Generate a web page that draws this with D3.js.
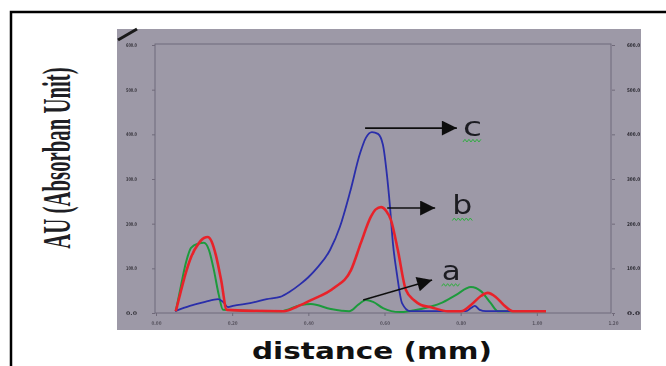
<!DOCTYPE html>
<html>
<head>
<meta charset="utf-8">
<script src="https://cdn.jsdelivr.net/npm/d3@7"></script>
<style>
  body { margin: 0; background: #fff; }
  svg { display: block; }
</style>
</head>
<body>
<div id="chart"></div>
<script>
// densitogram values (Rf, AU)
const aRf = [0.052, 0.066, 0.079, 0.092, 0.110, 0.126, 0.139, 0.152, 0.165, 0.176, 0.328, 0.381, 0.407, 0.459, 0.507, 0.533, 0.551, 0.570, 0.596, 0.640, 0.696, 0.748, 0.787, 0.827, 0.853, 0.879, 0.898, 1.024];
const aAU = [4, 63, 114, 146, 155, 157, 141, 96, 40, 7, 4, 18, 20, 9, 4, 20, 29, 25, 11, 2, 9, 22, 40, 58, 49, 22, 4, 4];

const bRf = [0.052, 0.066, 0.079, 0.092, 0.113, 0.126, 0.136, 0.146, 0.157, 0.171, 0.186, 0.336, 0.367, 0.407, 0.467, 0.512, 0.538, 0.564, 0.577, 0.591, 0.604, 0.617, 0.635, 0.656, 0.677, 0.696, 0.722, 0.766, 0.801, 0.827, 0.853, 0.871, 0.892, 0.913, 0.937, 1.024];
const bAU = [4, 51, 92, 125, 157, 168, 170, 160, 130, 74, 7, 4, 13, 29, 56, 96, 157, 215, 232, 237, 229, 208, 141, 52, 29, 18, 13, 4, 4, 18, 38, 45, 36, 18, 4, 4];

const cRf = [0.050, 0.089, 0.129, 0.163, 0.176, 0.189, 0.202, 0.247, 0.291, 0.326, 0.352, 0.378, 0.400, 0.423, 0.457, 0.483, 0.509, 0.536, 0.551, 0.567, 0.583, 0.596, 0.607, 0.614, 0.622, 0.633, 0.646, 0.667, 0.814, 0.827, 0.837, 0.850, 0.866, 1.024];
const cAU = [4, 16, 25, 31, 25, 13, 16, 22, 31, 36, 48, 64, 80, 101, 141, 193, 269, 358, 392, 405, 401, 376, 304, 242, 157, 85, 22, 4, 4, 11, 16, 7, 4, 4];

const xTicks = [0, 0.2, 0.4, 0.6, 0.8, 1.0, 1.2];
const yTicks = [0, 100, 200, 300, 400, 500, 600];

// arrows: label, from (Rf, AU), to (Rf, AU)
const arrowLabels = ["c", "b", "a"];
const arrowFrom = [[0.549, 414], [0.607, 235], [0.544, 29]];
const arrowTo = [[0.790, 414], [0.733, 235], [0.725, 74]];
const labelAt = [[0.806, 397], [0.778, 221], [0.750, 74]];

const W = 666, H = 366;
const svg = d3.select("#chart").append("svg")
    .attr("width", W)
    .attr("height", H);

const defs = svg.append("defs");
defs.append("filter").attr("id", "soft")
    .append("feGaussianBlur").attr("stdDeviation", 0.35);

// outer frame (only left and top visible)
svg.append("path")
    .attr("d", "M11,366 L11,12 L666,12")
    .attr("fill", "none")
    .attr("stroke", "#000")
    .attr("stroke-width", 2.5);

// scanned grey panel
svg.append("rect")
    .attr("x", 117).attr("y", 29)
    .attr("width", 524).attr("height", 301)
    .attr("fill", "#9d99a7");

// dark corner mark of the scan
svg.append("line")
    .attr("x1", 118).attr("y1", 40)
    .attr("x2", 137).attr("y2", 29)
    .attr("stroke", "#1a1a1a")
    .attr("stroke-width", 3);

const x = d3.scaleLinear().domain([0, 1.2]).range([156, 613]);
const y = d3.scaleLinear().domain([0, 600]).range([313, 45]);

const plot = svg.append("g").style("filter", "url(#soft)");

// axes box
plot.append("rect")
    .attr("x", x(0) - 1).attr("y", y(600) - 1)
    .attr("width", x(1.2) - x(0) - 1).attr("height", y(0) - y(600) + 1)
    .attr("fill", "none")
    .attr("stroke", "#6f6b7a")
    .attr("stroke-width", 1);

const axisL = d3.axisLeft(y).tickValues(yTicks).tickSize(3).tickFormat(d3.format(".1f"));
const axisR = d3.axisRight(y).tickValues(yTicks).tickSize(3).tickFormat(d3.format(".1f"));
const axisB = d3.axisBottom(x).tickValues(xTicks).tickSize(3).tickFormat(d3.format(".2f"));

function styleAxis(g, col, len) {
    g.select(".domain").remove();
    g.selectAll(".tick line").attr("stroke", "#6f6b7a");
    g.selectAll(".tick text")
        .attr("fill", col)
        .style("font-family", "DejaVu Sans")
        .style("font-size", "5px")
        .style("font-weight", "bold")
        .attr("textLength", len)
        .attr("lengthAdjust", "spacingAndGlyphs");
}

plot.append("g")
    .attr("transform", `translate(${x(0) - 1},0)`)
    .call(axisL.tickPadding(15))
    .call(g => styleAxis(g, "#3a3840", 11));

plot.append("g")
    .attr("transform", `translate(${x(1.2) - 1},0)`)
    .call(axisR.tickPadding(12))
    .call(g => styleAxis(g, "#2a2830", 13));

plot.append("g")
    .attr("transform", `translate(0,${y(0)})`)
    .call(axisB.tickPadding(5))
    .call(g => styleAxis(g, "#5a5662", 10));

// curves
const line = d3.line()
    .x(d => x(d[0]))
    .y(d => y(d[1]))
    .curve(d3.curveMonotoneX);

const series = [
    { rf: aRf, au: aAU, color: "#1e9a3c", w: 2 },
    { rf: cRf, au: cAU, color: "#2a2eaa", w: 1.8 },
    { rf: bRf, au: bAU, color: "#e8242a", w: 2.6 }
];

series.forEach(s => {
    plot.append("path")
        .datum(d3.zip(s.rf, s.au))
        .attr("d", line)
        .attr("fill", "none")
        .attr("stroke", s.color)
        .attr("stroke-width", s.w)
        .attr("stroke-linejoin", "round");
});

// arrows
defs.append("marker")
    .attr("id", "head")
    .attr("viewBox", "0 0 10 10")
    .attr("refX", 10).attr("refY", 5)
    .attr("markerWidth", 25).attr("markerHeight", 15)
    .attr("markerUnits", "userSpaceOnUse")
    .attr("orient", "auto")
    .append("path")
    .attr("d", "M0,0 L10,5 L0,10 Z")
    .attr("fill", "#111");

arrowLabels.forEach((lab, i) => {
    plot.append("line")
        .attr("x1", x(arrowFrom[i][0])).attr("y1", y(arrowFrom[i][1]))
        .attr("x2", x(arrowTo[i][0])).attr("y2", y(arrowTo[i][1]))
        .attr("stroke", "#111")
        .attr("stroke-width", 1.6)
        .attr("marker-end", "url(#head)");

    const lx = x(labelAt[i][0]), ly = y(labelAt[i][1]);
    const wdt = lab === "b" ? 20 : 19;
    plot.append("text")
        .attr("x", lx).attr("y", ly)
        .attr("textLength", wdt)
        .attr("lengthAdjust", "spacingAndGlyphs")
        .style("font-family", "DejaVu Sans")
        .style("font-size", "27px")
        .attr("fill", "#1c1c22")
        .text(lab);

    // green spell-check squiggle under the letter
    const pts = d3.range(0, wdt + 1, 2).map((k, j) => [lx + k, ly + 5 + (j % 2 ? -1.3 : 1.3)]);
    plot.append("path")
        .attr("d", d3.line()(pts))
        .attr("fill", "none")
        .attr("stroke", "#2fae3f")
        .attr("stroke-width", 1);
});

// axis titles
svg.append("text")
    .attr("transform", "translate(70,158) rotate(-90) scale(0.52,1)")
    .attr("text-anchor", "middle")
    .style("font-family", "Liberation Serif")
    .style("font-weight", "bold")
    .style("font-size", "40px")
    .attr("fill", "#1e1e24")
    .text("AU (Absorban Unit)");

svg.append("text")
    .attr("x", 372).attr("y", 359)
    .attr("text-anchor", "middle")
    .attr("textLength", 240)
    .attr("lengthAdjust", "spacingAndGlyphs")
    .style("font-family", "DejaVu Sans")
    .style("font-weight", "bold")
    .style("font-size", "23px")
    .attr("fill", "#111")
    .text("distance (mm)");
</script>
</body>
</html>
